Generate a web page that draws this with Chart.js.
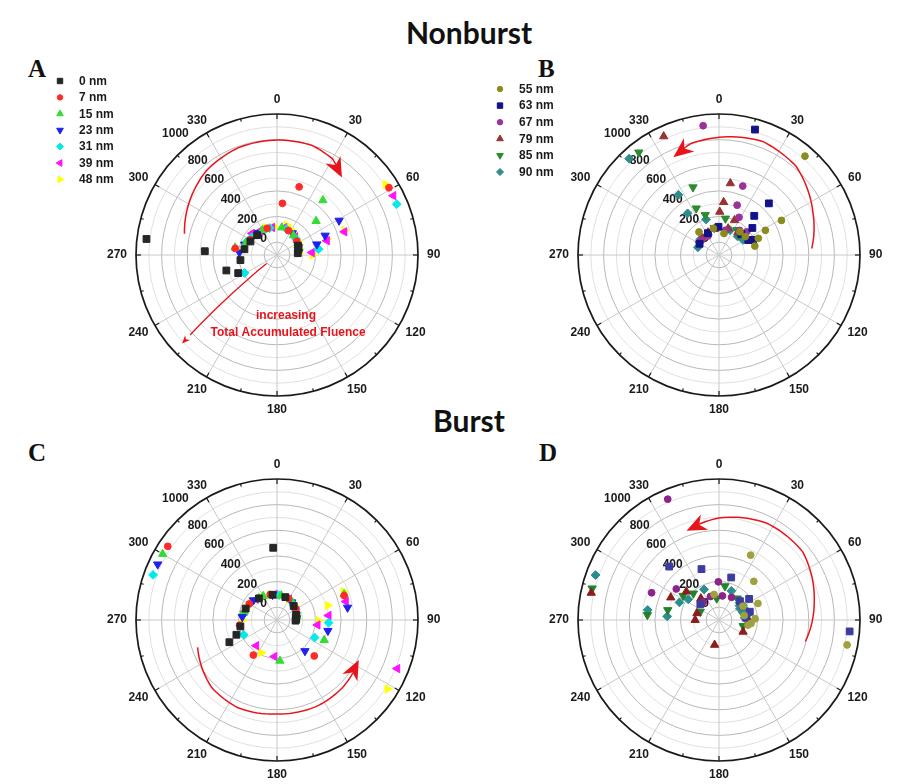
<!DOCTYPE html>
<html>
<head>
<meta charset="utf-8">
<script src="https://cdn.jsdelivr.net/npm/chart.js@4.4.0/dist/chart.umd.min.js"></script>
<style>
  body { margin: 0; background: #fff; width: 909px; height: 784px; overflow: hidden; position: relative; }
  canvas { position: absolute; }
  .title { position: absolute; left: 0; width: 938px; text-align: center; font-family: Lato, "Open Sans", sans-serif; font-weight: 700; font-size: 30px; line-height: 30px; color: #111; }
  .letter { position: absolute; font-family: "Liberation Serif", "DejaVu Serif", serif; font-weight: bold; font-size: 25px; line-height: 25px; color: #111; }
</style>
</head>
<body>
<div class="title" style="top:17px">Nonburst</div>
<div class="title" style="top:405px">Burst</div>
<div class="letter" style="left:28px;top:56px">A</div>
<div class="letter" style="left:538px;top:56px">B</div>
<div class="letter" style="left:28px;top:440px">C</div>
<div class="letter" style="left:539px;top:440px">D</div>

<canvas id="chartA" width="454" height="350" style="left:0;top:70px"></canvas>
<canvas id="chartB" width="454" height="350" style="left:442px;top:70px"></canvas>
<canvas id="chartC" width="454" height="350" style="left:0;top:435px"></canvas>
<canvas id="chartD" width="454" height="350" style="left:442px;top:435px"></canvas>

<script>
// ---- data: [angle (deg), value] ----
const angleTicks = [0, 30, 60, 90, 120, 150, 180, 210, 240, 270, 300, 330];
const radialTicks = [0, 200, 400, 600, 800, 1000];
const labelsSmall = ["0 nm", "7 nm", "15 nm", "23 nm", "31 nm", "39 nm", "48 nm"];
const labelsLarge = ["55 nm", "63 nm", "67 nm", "79 nm", "85 nm", "90 nm"];

// Nonburst, small sizes (A)
const A_0nm = [[277, 926], [273, 464], [253, 313], [245, 234], [262, 188], [280, 158], [297, 133], [315, 119], [85, 63], [75, 74], [66, 80]];
const A_7nm = [[59, 919], [18, 459], [6, 305], [279, 230], [300, 140], [340, 122], [25, 110], [55, 88]];
const A_15nm = [[40, 457], [49, 304], [280, 232], [292, 160], [330, 125], [10, 118], [40, 100], [65, 80]];
const A_23nm = [[61, 454], [68, 305], [75, 222], [274, 194], [288, 165], [320, 125], [35, 108], [70, 78], [82, 70]];
const A_31nm = [[67, 915], [241, 190], [295, 156], [82, 228], [305, 140], [345, 118], [20, 115], [50, 95], [78, 72]];
const A_39nm = [[63, 919], [71, 456], [74, 305], [86, 173], [311, 157], [325, 130], [350, 118], [15, 120], [45, 100], [72, 80]];
const A_48nm = [[57, 910], [70, 459], [72, 309], [82, 228], [90, 177], [18, 145], [337, 133], [355, 120], [28, 125], [40, 110], [55, 95], [65, 88], [75, 78], [85, 70], [310, 150]];

// Nonburst, large sizes (B)
const B_55nm = [[41, 922], [61, 457], [62, 310], [67, 233], [76, 188], [13, 72], [348, 112], [42, 144], [319, 138], [55, 150]];
const B_63nm = [[16, 918], [44, 460], [42, 311], [51, 235], [66, 191], [63, 156], [359, 120], [333, 91], [47, 138], [300, 75]];
const B_67nm = [[353, 916], [19, 469], [20, 314], [28, 233], [50, 181], [330, 72], [40, 150], [15, 100], [310, 80]];
const B_79nm = [[335, 921], [9, 466], [5, 314], [1, 237], [24, 197], [19, 119], [334, 95], [350, 105], [40, 130], [315, 90]];
const B_85nm = [[322, 916], [339, 466], [334, 305], [341, 230], [10, 189], [36, 141], [300, 78], [350, 115], [45, 120]];
const B_90nm = [[317, 928], [326, 466], [323, 307], [340, 195], [305, 80], [58, 122], [24, 112], [290, 75], [310, 90], [45, 105]];

// Burst, small sizes (C)
const C_0nm = [[357, 464], [245, 310], [250, 237], [260, 190], [83, 48], [75, 55], [290, 160], [320, 120], [350, 100], [20, 90], [50, 70], [88, 50], [92, 45]];
const C_7nm = [[304, 928], [214, 230], [134, 304], [28, 91], [262, 195], [70, 457], [300, 150], [345, 105], [60, 70]];
const C_15nm = [[300, 930], [176, 219], [113, 300], [69, 461], [285, 165], [330, 115], [10, 95], [45, 80], [80, 58]];
const C_23nm = [[295, 927], [138, 226], [102, 306], [80, 459], [275, 172], [310, 140], [350, 100], [40, 80], [85, 55]];
const C_31nm = [[290, 929], [115, 224], [93, 303], [246, 184], [280, 165], [320, 125], [5, 95], [35, 85], [70, 62]];
const C_39nm = [[112, 912], [219, 158], [184, 186], [97, 219], [85, 304], [75, 456], [285, 160], [315, 130], [355, 100], [30, 88], [65, 68]];
const C_48nm = [[122, 917], [206, 183], [91, 224], [74, 311], [67, 465], [270, 170], [290, 160], [305, 145], [325, 120], [345, 105], [10, 95], [30, 88], [50, 78], [75, 62]];

// Burst, large sizes (D)
const D_55nm = [[101, 918], [26, 463], [42, 306], [67, 230], [88, 182], [96, 152], [349, 103], [80, 100], [60, 115], [100, 130]];
const D_63nm = [[95, 923], [317, 470], [341, 320], [16, 245], [55, 187], [48, 120], [75, 149], [85, 110], [310, 90]];
const D_67nm = [[337, 924], [292, 467], [306, 312], [359, 198], [8, 90], [29, 102], [319, 87], [340, 95], [60, 110]];
const D_79nm = [[282, 919], [295, 315], [311, 238], [190, 97], [116, 109], [92, 135], [287, 80], [270, 86], [320, 120]];
const D_85nm = [[284, 920], [274, 460], [281, 307], [304, 238], [316, 188], [10, 168], [354, 69], [294, 60], [104, 94], [40, 120]];
const D_90nm = [[290, 925], [278, 462], [274, 305], [294, 238], [304, 189], [334, 165], [23, 147], [50, 110], [58, 120], [65, 100], [72, 95], [78, 105], [85, 100], [62, 85], [70, 125], [80, 125], [55, 95]];

// ---- styles ----
const colorsSmall = ["#262626", "#ff2a2a", "#33dd33", "#2020ee", "#00eaea", "#ff10ff", "#ffff00"];
const colorsLarge = ["#8c8c1e", "#12128a", "#993399", "#993333", "#2e8a2e", "#2e8c8c"];
const colorsLargeBurst = ["#a0a03c", "#3c3ca0", "#8c248c", "#8c1c1c", "#22822a", "#2a8e8e"];
const stylesSmall = [["rect", 0], ["circle", 0], ["triangle", 0], ["triangle", 180], ["rectRot", 0], ["triangle", 270], ["triangle", 90]];
const stylesLarge = [["circle", 0], ["rect", 0], ["circle", 0], ["triangle", 0], ["triangle", 180], ["rectRot", 0]];
const markerSize = { rect: 4.8, circle: 3.4, triangle: 4.8, rectRot: 4.4 };

const UMAX = 1100, HOLE = 100; // value 0 sits on the inner ring
const rad = d => d * Math.PI / 180;
const toXY = ([a, v]) => ({ x: (v + HOLE) * Math.sin(rad(a)), y: (v + HOLE) * Math.cos(rad(a)) });

const polarPlugin = {
  id: "polarGrid",
  beforeDatasetsDraw(chart) {
    const ctx = chart.ctx, xs = chart.scales.x, ys = chart.scales.y;
    const cx = xs.getPixelForValue(0), cy = ys.getPixelForValue(0);
    const k = (xs.getPixelForValue(UMAX) - cx) / UMAX;
    const R = UMAX * k;
    ctx.save();
    // rings
    for (let u = 100; u < UMAX; u += 100) {
      ctx.beginPath();
      ctx.arc(cx, cy, u * k, 0, Math.PI * 2);
      ctx.strokeStyle = (u / 100) % 2 === 1 ? "#b8b8b8" : "#e0e0e0";
      ctx.lineWidth = 1;
      ctx.stroke();
    }
    // spokes
    ctx.strokeStyle = "#c8c8c8";
    angleTicks.forEach(a => {
      ctx.beginPath();
      ctx.moveTo(cx, cy);
      ctx.lineTo(cx + R * Math.sin(rad(a)), cy - R * Math.cos(rad(a)));
      ctx.stroke();
    });
    // outer ring and ticks
    ctx.beginPath();
    ctx.arc(cx, cy, R, 0, Math.PI * 2);
    ctx.strokeStyle = "#1a1a1a";
    ctx.lineWidth = 1.7;
    ctx.stroke();
    ctx.lineWidth = 1.2;
    for (let a = 0; a < 360; a += 15) {
      const len = a % 30 === 0 ? 5 : 3;
      const s = Math.sin(rad(a)), c = Math.cos(rad(a));
      ctx.beginPath();
      ctx.moveTo(cx + R * s, cy - R * c);
      ctx.lineTo(cx + (R - len) * s, cy - (R - len) * c);
      ctx.stroke();
    }
    // angle labels
    ctx.font = "bold 12px 'Liberation Sans', Arial, sans-serif";
    ctx.fillStyle = "#1a1a1a";
    ctx.textAlign = "center";
    ctx.textBaseline = "middle";
    angleTicks.forEach(a => {
      const s = Math.sin(rad(a)), c = Math.cos(rad(a));
      const w = ctx.measureText(String(a)).width;
      const x = cx + (R + 9) * s + s * w / 2;
      const y = cy - (R + 9) * c - c * 5;
      ctx.fillText(String(a), x, y);
    });
    // radial labels along ~320 deg
    radialTicks.forEach((v, i) => {
      const r = (v + HOLE) * k + (i === radialTicks.length - 1 ? 17 : 8);
      ctx.fillText(String(v), cx + r * Math.sin(rad(320)), cy - r * Math.cos(rad(320)));
    });
    ctx.restore();
  },
  afterDatasetsDraw(chart, args, opts) {
    const ctx = chart.ctx, xs = chart.scales.x, ys = chart.scales.y;
    const P = (a, u) => [xs.getPixelForValue(u * Math.sin(rad(a))), ys.getPixelForValue(u * Math.cos(rad(a)))];
    ctx.save();
    ctx.strokeStyle = "#e8141b";
    ctx.fillStyle = "#e8141b";
    (opts.arrows || []).forEach(ar => {
      const pts = [];
      for (let i = 0; i < ar.path.length - 1; i++) {
        const [a0, u0] = ar.path[i], [a1, u1] = ar.path[i + 1];
        for (let t = 0; t < 1; t += 0.1) pts.push(P(a0 + (a1 - a0) * t, u0 + (u1 - u0) * t));
      }
      const last = ar.path[ar.path.length - 1];
      pts.push(P(last[0], last[1]));
      const tip = pts[pts.length - 1];
      let back = pts[0];
      for (let i = pts.length - 1; i >= 0; i--) {
        if (Math.hypot(pts[i][0] - tip[0], pts[i][1] - tip[1]) >= ar.head) { back = pts[i]; break; }
      }
      const ang = Math.atan2(tip[1] - back[1], tip[0] - back[0]);
      ctx.lineWidth = ar.width;
      ctx.beginPath();
      ctx.moveTo(pts[0][0], pts[0][1]);
      for (let i = 1; i < pts.length; i++) {
        if (Math.hypot(pts[i][0] - tip[0], pts[i][1] - tip[1]) < ar.head * 0.6) break;
        ctx.lineTo(pts[i][0], pts[i][1]);
      }
      ctx.stroke();
      const L = ar.head, W = ar.head * 0.42;
      ctx.beginPath();
      ctx.moveTo(tip[0], tip[1]);
      ctx.lineTo(tip[0] - L * Math.cos(ang) + W * Math.sin(ang), tip[1] - L * Math.sin(ang) - W * Math.cos(ang));
      ctx.lineTo(tip[0] - L * 0.7 * Math.cos(ang), tip[1] - L * 0.7 * Math.sin(ang));
      ctx.lineTo(tip[0] - L * Math.cos(ang) - W * Math.sin(ang), tip[1] - L * Math.sin(ang) + W * Math.cos(ang));
      ctx.closePath();
      ctx.fill();
    });
    (opts.notes || []).forEach(n => {
      ctx.font = "bold 12px 'Liberation Sans', Arial, sans-serif";
      ctx.textAlign = "center";
      ctx.textBaseline = "middle";
      ctx.fillText(n.text, xs.getPixelForValue(n.x), ys.getPixelForValue(n.y));
    });
    // legend
    if (opts.legend) {
      const lg = opts.legend;
      ctx.font = "bold 12px 'Liberation Sans', Arial, sans-serif";
      ctx.textAlign = "left";
      ctx.textBaseline = "middle";
      chart.data.datasets.forEach((ds, i) => {
        const y = lg.y + i * lg.step;
        ctx.fillStyle = ds.backgroundColor;
        ctx.strokeStyle = ds.borderColor;
        ctx.lineWidth = 1;
        Chart.helpers.drawPoint(ctx, { pointStyle: ds.pointStyle, rotation: ds.rotation, radius: ds.pointRadius * 0.8, borderWidth: 1 }, lg.x, y);
        ctx.fillStyle = "#1a1a1a";
        ctx.fillText(ds.label, lg.x + 19, y + 0.5);
      });
    }
    ctx.restore();
  }
};

function makePanel(id, series, labels, colors, styles, extra) {
  new Chart(document.getElementById(id), {
    type: "scatter",
    data: {
      datasets: series.map((s, i) => ({
        label: labels[i],
        data: s.map(toXY),
        pointStyle: styles[i][0],
        rotation: styles[i][1],
        pointRadius: markerSize[styles[i][0]],
        backgroundColor: colors[i],
        borderColor: colors[i],
        borderWidth: 1
      }))
    },
    options: {
      responsive: false,
      animation: false,
      events: [],
      layout: { padding: { left: 136, right: 36, top: 44, bottom: 24 } },
      scales: {
        x: { type: "linear", min: -UMAX, max: UMAX, display: false },
        y: { type: "linear", min: -UMAX, max: UMAX, display: false }
      },
      plugins: {
        legend: { display: false },
        tooltip: { enabled: false },
        polarGrid: extra
      }
    },
    plugins: [polarPlugin]
  });
}

makePanel("chartA", [A_0nm, A_7nm, A_15nm, A_23nm, A_31nm, A_39nm, A_48nm], labelsSmall, colorsSmall, stylesSmall, {
  legend: { x: 60, y: 11, step: 16.4 },
  arrows: [
    { path: [[283, 741], [300, 796], [320, 858], [340, 889], [360, 897], [378, 897], [390, 866], [400, 788]], head: 20, width: 1.5 },
    { path: [[231, 104], [227, 1012]], head: 8, width: 1.3 }
  ],
  notes: [
    { text: "increasing", x: 70, y: -476 },
    { text: "Total Accumulated Fluence", x: 86, y: -608 }
  ]
});
makePanel("chartB", [B_55nm, B_63nm, B_67nm, B_79nm, B_85nm, B_90nm], labelsLarge, colorsLarge, stylesLarge, {
  legend: { x: 58, y: 19, step: 16.6 },
  arrows: [{ path: [[86, 725], [66, 803], [41, 917], [21, 949], [0, 918], [-14, 897], [-25, 842]], head: 20, width: 1.5 }]
});
makePanel("chartC", [C_0nm, C_7nm, C_15nm, C_23nm, C_31nm, C_39nm, C_48nm], labelsSmall, colorsSmall, stylesSmall, {
  arrows: [{ path: [[251, 655], [224, 733], [204, 749], [180, 733], [154, 741], [134, 733], [116, 710]], head: 20, width: 1.5 }]
});
makePanel("chartD", [D_55nm, D_63nm, D_67nm, D_79nm, D_85nm, D_90nm], labelsLarge, colorsLargeBurst, stylesLarge, {
  arrows: [{ path: [[104, 694], [79, 757], [51, 842], [26, 842], [0, 796], [-20, 741]], head: 20, width: 1.5 }]
});
</script>
</body>
</html>
